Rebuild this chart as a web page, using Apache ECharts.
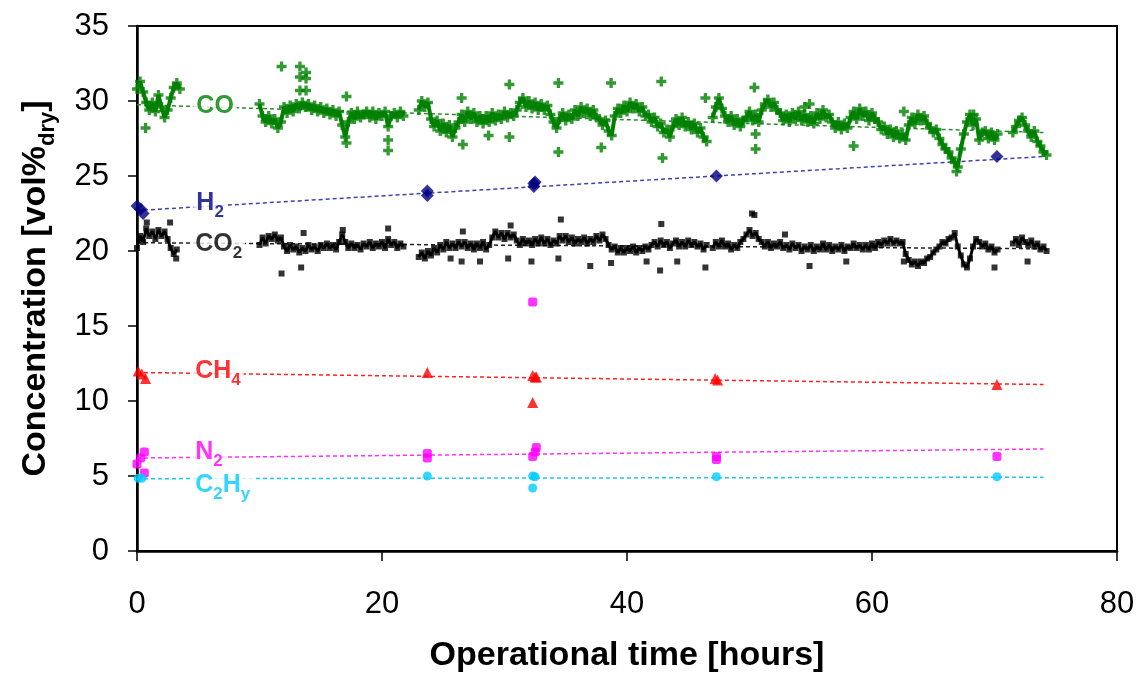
<!DOCTYPE html>
<html>
<head>
<meta charset="utf-8">
<title>Gas concentration vs operational time</title>
<script src="https://cdn.jsdelivr.net/npm/echarts@6/dist/echarts.min.js"></script>
<style>
  html, body { margin: 0; padding: 0; background: #fff; }
  #chart { width: 1139px; height: 683px; }
</style>
</head>
<body>
<div id="chart"></div>
<script>
// axis ranges
var xMin = 0, xMax = 80, xStep = 20;
var yMin = 0, yMax = 35, yStep = 5;

// CO and CO2 readings, one value every 0.25 h inside each logged block
var sampleStep = 0.25;
var coStart = [0, 10, 23, 47, 71.5];
var coSeg = [
    [30.8, 31.3, 30.6, 29.9, 29.4, 29.9, 29.3, 30.4, 29.6, 28.9, 29.4, 30.2, 30.9, 31.2, 30.8],
    [29.8, 29.0, 28.6, 29.0,  28.5, 28.8, 28.2, 28.6,  29.6, 29.2, 29.7, 29.3,  29.8, 29.5, 29.9, 29.6,
     29.8, 29.4, 29.7, 29.3,  29.6, 29.2, 29.5, 29.1,  29.4, 29.0, 29.3, 28.4,  27.6, 28.6, 29.2, 28.8,
     29.3, 28.9, 29.1, 29.3,  28.9, 29.3, 28.8, 29.2,  29.0, 29.3, 28.3, 29.0,  29.2, 28.9, 29.3, 29.0],
    [29.4, 30.0, 29.6, 29.9,  28.8, 28.3, 28.7, 28.0,  28.5, 27.9, 28.4, 27.6,  28.2, 28.6, 29.1, 28.6,
     29.3, 28.8, 29.2, 28.6,  29.0, 28.5, 29.0, 28.6,  29.2, 28.7, 29.1, 28.8,  29.3, 28.9, 29.2, 29.0,
     29.4, 29.9, 30.2, 29.6,  30.0, 29.5, 29.9, 29.4,  29.8, 29.4, 29.7, 29.1,  28.6, 28.2, 28.8, 29.2,
     28.7, 29.1, 28.8, 29.4,  29.0, 29.6, 29.2, 29.5,  29.0, 29.4, 28.9, 28.8,  28.4, 28.7, 28.0, 27.7,
     29.0, 29.5, 29.2, 29.7,  29.3, 29.9, 29.5, 29.8,  29.3, 29.6, 29.0, 29.1,  28.6, 28.9, 28.3, 28.5,
     27.9, 28.1, 27.6, 28.3,  28.8, 28.4, 28.9, 28.3,  28.6, 28.1, 28.5, 27.9,  28.2, 27.6, 27.3],
    [28.9, 29.6, 30.2, 29.5,  29.0, 28.6, 29.0, 28.4,  28.8, 28.3, 28.7, 28.9,  29.3, 28.7, 29.1, 28.6,
     29.4, 29.8, 30.1, 29.6,  29.9, 29.4, 29.2, 28.7,  29.1, 28.6, 29.2, 28.8,  29.3, 28.7, 29.1, 28.6,
     29.0, 28.5, 29.2, 28.8,  29.4, 28.9, 29.1, 28.6,  28.2, 28.6, 28.1, 28.5,  28.2, 28.9, 29.3, 28.8,
     29.5, 29.0, 29.3, 28.7,  29.2, 28.8, 28.6, 28.1,  28.3, 27.8, 28.1, 27.6,  28.0, 27.5, 27.8, 27.4,
     28.4, 28.9, 28.5, 29.1,  28.7, 29.0, 28.5, 28.2,  27.9, 28.1, 27.5, 27.1,  26.8, 26.6, 26.2, 25.9,
     25.6, 26.8, 27.8, 28.6,  29.1, 28.4, 28.8, 27.4,  27.9, 28.0, 27.5, 27.9,  27.4, 27.8],
    [27.9, 28.3, 28.7, 28.9, 28.4, 28.0, 27.6, 28.0, 27.3, 27.0, 26.6, 26.4]
];
var coStray = [[0.7, 28.2], [11.8, 32.3], [13.3, 32.3], [13.8, 31.9], [13.3, 31.6], [13.8, 31.5],
    [13.3, 30.7], [13.8, 30.7], [17.1, 30.3], [17.1, 27.2], [20.5, 27.4], [20.5, 26.7],
    [26.5, 30.2], [26.6, 27.1], [28.7, 27.7], [30.4, 31.1], [30.4, 27.6], [34.4, 31.2], [34.4, 26.6],
    [37.9, 26.9], [38.7, 31.2], [42.8, 31.3], [42.9, 26.2], [46.4, 30.2], [50.4, 30.9], [50.5, 26.8],
    [50.5, 27.8], [54.5, 29.6], [54.9, 29.8], [58.5, 27.0], [62.6, 29.3], [66.9, 25.3], [68.3, 29.1]];

var co2Start = [0, 10, 23, 47, 71.5];
var co2Seg = [
    [20.2, 21.0, 20.6, 21.5, 21.0, 21.3, 20.8, 21.4, 21.0, 21.3, 20.8, 20.2, 19.8, 20.1],
    [20.4, 20.9, 20.5, 21.0,  20.8, 21.1, 20.7, 20.9,  20.3, 20.0, 20.4, 20.1,  20.3, 19.9, 20.2, 20.0,
     20.4, 20.1, 20.3, 20.0,  20.4, 20.2, 20.5, 20.2,  20.4, 20.1, 20.6, 21.1,  20.6, 20.2, 20.5, 20.2,
     20.4, 20.1, 20.5, 20.3,  20.6, 20.2, 20.5, 20.3,  20.6, 20.2, 20.8, 20.4,  20.6, 20.2, 20.5, 20.3],
    [19.6, 19.9, 19.5, 20.0,  19.7, 20.2, 19.9, 20.4,  20.1, 20.6, 20.2, 20.5,  20.2, 20.6, 20.3, 20.6,
     20.2, 20.5, 20.1, 20.5,  20.2, 20.6, 20.1, 20.4,  20.9, 21.3, 20.9, 21.2,  20.8, 21.2, 20.9, 21.1,
     20.7, 20.4, 20.8, 20.5,  20.7, 20.4, 20.8, 20.5,  20.9, 20.5, 20.8, 20.4,  20.7, 20.5, 21.0, 20.7,
     21.0, 20.6, 20.9, 20.5,  20.8, 20.6, 20.9, 20.5,  20.8, 20.6, 21.0, 20.7,  21.1, 20.8, 20.4, 20.1,
     20.3, 19.9, 20.2, 19.9,  20.2, 20.0, 20.3, 19.9,  20.2, 20.0, 20.3, 20.1,  20.4, 20.6, 20.3, 20.7,
     20.4, 20.6, 20.2, 20.5,  20.7, 20.3, 20.6, 20.3,  20.7, 20.4, 20.6, 20.3,  20.5, 20.1, 20.4],
    [20.2, 20.6, 20.3, 20.7,  20.3, 20.5, 20.1, 20.4,  20.2, 20.6, 20.8, 21.1,  21.4, 21.0, 21.2, 20.8,
     20.6, 20.3, 20.6, 20.2,  20.5, 20.3, 20.6, 20.2,  20.4, 20.1, 20.5, 20.2,  20.4, 20.0, 20.3, 20.1,
     20.4, 20.0, 20.3, 20.1,  20.5, 20.1, 20.4, 20.0,  20.3, 20.1, 20.4, 20.0,  20.3, 20.2, 20.5, 20.2,
     20.4, 20.1, 20.4, 20.1,  20.5, 20.2, 20.6, 20.4,  20.7, 20.5, 20.8, 20.5,  20.7, 20.5, 20.6, 19.8,
     19.4, 19.1, 19.3, 19.0,  19.3, 19.2, 19.5, 19.6,  19.9, 20.1, 20.3, 20.6,  20.5, 20.8, 20.9, 21.2,
     20.3, 19.7, 19.1, 18.9,  19.5, 20.3, 20.8, 20.6,  20.3, 20.5, 20.1, 20.3,  19.9, 20.1],
    [20.5, 20.8, 20.4, 20.9, 20.6, 20.4, 20.7, 20.3, 20.5, 20.1, 20.3, 20.0]
];
var co2Stray = [[0.8, 21.9], [2.7, 21.9], [3.2, 19.5], [11.8, 18.5], [13.4, 18.9], [13.6, 21.2],
    [16.8, 21.4], [20.5, 21.5], [25.6, 19.5], [26.5, 19.3], [26.6, 21.3], [28.0, 19.3], [30.3, 19.5],
    [30.5, 21.7], [32.2, 19.3], [34.4, 19.5], [34.6, 22.1], [37.0, 19.0], [38.7, 19.2], [41.6, 19.3],
    [42.7, 18.7], [42.8, 21.8], [44.1, 19.3], [46.4, 18.9], [50.2, 22.5], [50.4, 22.4], [52.9, 21.1],
    [54.9, 19.0], [57.9, 19.3], [62.6, 19.3], [70.0, 18.9], [72.7, 19.3]];

// gas chromatograph samples
var h2Pts = [[0.0, 23.0], [0.3, 22.8], [0.5, 22.5], [23.7, 24.0], [23.7, 23.7],
    [32.4, 24.5], [32.4, 24.3], [32.5, 24.6], [47.3, 25.0], [70.2, 26.3]];
var ch4Pts = [[0.1, 12.0], [0.4, 11.8], [0.7, 11.5], [23.7, 11.9], [32.3, 11.7], [32.5, 11.6],
    [32.6, 11.6], [32.3, 9.9], [47.2, 11.5], [47.4, 11.4], [70.2, 11.1]];
var n2Pts = [[0.0, 5.8], [0.3, 6.2], [0.6, 6.6], [0.6, 5.2], [23.7, 6.2], [23.7, 6.5],
    [32.3, 6.3], [32.5, 6.6], [32.6, 6.9], [32.3, 16.6], [47.3, 6.1], [47.3, 6.3], [70.2, 6.3]];
var c2hyPts = [[0.1, 4.85], [0.4, 4.85], [23.7, 5.0], [32.3, 5.0], [32.5, 4.95], [32.3, 4.2],
    [47.3, 4.95], [70.2, 4.95]];

// linear trend lines: [t start, t end], [value start, value end]
var trendT = [0, 74];
var trendCO = [29.75, 27.9];
var trendH2 = [22.7, 26.3];
var trendCO2 = [20.55, 20.15];
var trendCH4 = [11.9, 11.1];
var trendN2 = [6.2, 6.8];
var trendC2Hy = [4.82, 4.92];

// in-plot gas labels
var labelText = ['{a|CO}', '{a|H}{s|2}', '{a|CO}{s|2}', '{a|CH}{s|4}', '{a|N}{s|2}', '{a|C}{s|2}{a|H}{s|y}'];
var labelT = [4.6, 4.6, 4.5, 4.5, 4.5, 4.5];
var labelV = [29.5, 23.0, 20.3, 11.8, 6.4, 4.2];

var colCO = '#008000', colH2 = '#000080', colCO2 = '#000000';
var colCH4 = '#ff0000', colN2 = '#ff00ff', colC2Hy = '#00ccff';
var labelColor = [colCO, colH2, colCO2, colCH4, colN2, colC2Hy];

var plusPath = 'path://M2,0H4V2H6V4H4V6H2V4H0V2H2Z';
var font = 'Liberation Sans, Arial, sans-serif';

function segPoints(starts, segs, gaps) {
    var pts = [];
    for (var i = 0; i < segs.length; i++) {
        for (var j = 0; j < segs[i].length; j++) {
            pts.push([starts[i] + j * sampleStep, segs[i][j]]);
        }
        // break the trace between logged blocks
        if (gaps && i < segs.length - 1) pts.push([starts[i] + segs[i].length * sampleStep, null]);
    }
    return pts;
}

function trend(vals, color) {
    return {
        type: 'line',
        data: [[trendT[0], vals[0]], [trendT[1], vals[1]]],
        showSymbol: false,
        silent: true,
        z: 1,
        lineStyle: {color: color, width: 1.5, type: [4, 3]}
    };
}

function trace(starts, segs, color, width) {
    return {
        type: 'line',
        data: segPoints(starts, segs, true),
        showSymbol: false,
        connectNulls: false,
        silent: true,
        z: 2,
        lineStyle: {color: color, width: width}
    };
}

function marks(data, symbol, size, color) {
    return {
        type: 'scatter',
        data: data,
        symbol: symbol,
        symbolSize: size,
        silent: true,
        z: 3,
        itemStyle: {color: color}
    };
}

var labelData = [];
for (var k = 0; k < labelText.length; k++) {
    labelData.push({
        value: [labelT[k], labelV[k]],
        label: {formatter: labelText[k], color: labelColor[k]}
    });
}

var richLabel = {
    a: {fontSize: 25, fontWeight: 'bold', fontFamily: font, lineHeight: 30, verticalAlign: 'top'},
    s: {fontSize: 17, fontWeight: 'bold', fontFamily: font, lineHeight: 17, verticalAlign: 'bottom', padding: [16, 0, 0, 0]}
};

var chart = echarts.init(document.getElementById('chart'));
chart.setOption({
    animation: false,
    backgroundColor: '#ffffff',
    grid: {
        left: 137, right: 22, top: 26, bottom: 132,
        show: true, borderColor: '#000', borderWidth: 2,
        outerBoundsMode: 'none'
    },
    xAxis: {
        type: 'value',
        min: xMin, max: xMax, interval: xStep,
        name: 'Operational time [hours]',
        nameLocation: 'middle',
        nameGap: 88,
        nameTextStyle: {fontSize: 34, fontWeight: 'bold', fontFamily: font, color: '#000'},
        axisLine: {show: true, onZero: false, lineStyle: {color: '#000', width: 2.5}},
        axisTick: {show: true, inside: false, length: 10, lineStyle: {color: '#000', width: 1.5}},
        axisLabel: {fontSize: 31, fontFamily: font, color: '#000', margin: 38},
        splitLine: {show: false}
    },
    yAxis: {
        type: 'value',
        min: yMin, max: yMax, interval: yStep,
        name: '{a|Concentration [vol%}{s|dry}{a|]}',
        nameLocation: 'middle',
        nameRotate: 90,
        nameGap: 78,
        nameTextStyle: {
            color: '#000',
            rich: {
                a: {fontSize: 34, fontWeight: 'bold', fontFamily: font, lineHeight: 40, verticalAlign: 'top', color: '#000'},
                s: {fontSize: 22, fontWeight: 'bold', fontFamily: font, lineHeight: 22, verticalAlign: 'bottom', padding: [22, 0, 0, 0], color: '#000'}
            }
        },
        axisLine: {show: true, lineStyle: {color: '#000', width: 2.5}},
        axisTick: {show: true, inside: false, length: 9, lineStyle: {color: '#000', width: 1.5}},
        axisLabel: {fontSize: 31, fontFamily: font, color: '#000', margin: 28},
        splitLine: {show: false}
    },
    series: [
        trend(trendCO, '#2e8b2e'),
        trend(trendH2, '#4040b0'),
        trend(trendCO2, '#222222'),
        trend(trendCH4, '#ff2020'),
        trend(trendN2, '#ff30ff'),
        trend(trendC2Hy, '#20c8f0'),
        trace(coStart, coSeg, colCO, 4),
        trace(co2Start, co2Seg, colCO2, 3),
        marks(segPoints(coStart, coSeg).concat(coStray), plusPath, 10, colCO),
        marks(segPoints(co2Start, co2Seg).concat(co2Stray), 'rect', 6, colCO2),
        marks(h2Pts, 'diamond', 13, colH2),
        marks(ch4Pts, 'triangle', 11, colCH4),
        marks(n2Pts, 'roundRect', 9, colN2),
        marks(c2hyPts, 'circle', 9, colC2Hy),
        {
            type: 'scatter',
            data: labelData,
            symbolSize: 0,
            silent: true,
            z: 5,
            label: {
                show: true,
                position: 'right',
                distance: 0,
                backgroundColor: '#ffffff',
                padding: [0, 3],
                rich: richLabel
            }
        }
    ]
});
</script>
</body>
</html>
